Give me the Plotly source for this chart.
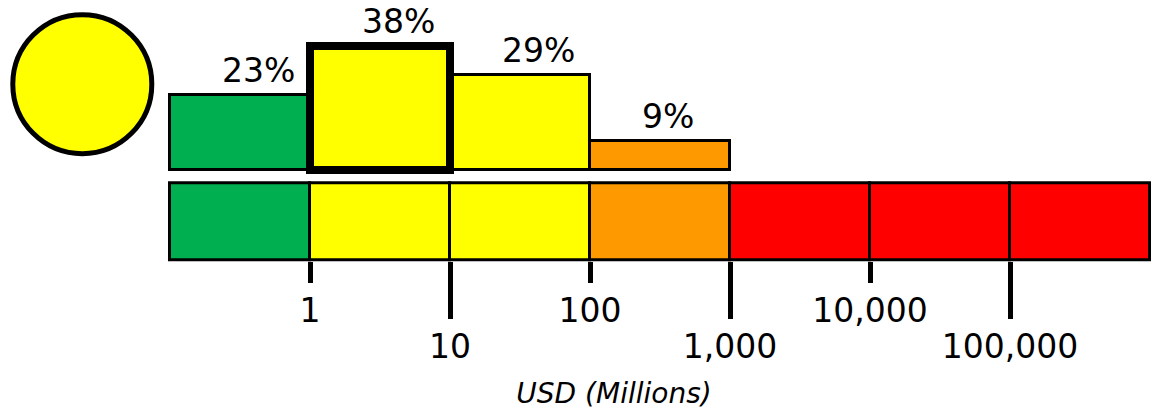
import math
import plotly.graph_objects as go

# ---- data ----
edges_usd_m = [0.1, 1, 10, 100, 1000, 10000, 100000, 1000000]
band_colors = ["#00B050", "#FFFF00", "#FFFF00", "#FF9900", "#FF0000", "#FF0000", "#FF0000"]
hist_pct = [23, 38, 29, 9]
hist_labels = ["23%", "38%", "29%", "9%"]
highlight_index = 1
short_tick_vals = [1, 100, 10000]
short_tick_text = ["1", "100", "10,000"]
long_tick_vals = [10, 1000, 100000]
long_tick_text = ["10", "1,000", "100,000"]
axis_title = "USD (Millions)"

W, H = 1156, 412
FONT = "DejaVu Sans"

def py(p):  # pixel y -> paper fraction
    return (H - p) / H

def px(p):  # pixel x -> paper fraction
    return p / W

log_edges = [math.log10(e) for e in edges_usd_m]
centers = [(a + b) / 2 for a, b in zip(log_edges[:-1], log_edges[1:])]
widths = [b - a for a, b in zip(log_edges[:-1], log_edges[1:])]

fig = go.Figure()

# colour band
fig.add_trace(go.Bar(
    x=centers, y=[1] * len(centers), base=[0] * len(centers), width=widths,
    marker=dict(color=band_colors, line=dict(color="black", width=3)),
    xaxis="x", yaxis="y2", hoverinfo="skip", showlegend=False,
))

# histogram (normal bars)
n = len(hist_pct)
norm_idx = [i for i in range(n) if i != highlight_index]
fig.add_trace(go.Bar(
    x=[centers[i] for i in norm_idx], y=[hist_pct[i] for i in norm_idx],
    width=[widths[i] for i in norm_idx],
    marker=dict(color=[band_colors[i] for i in norm_idx], line=dict(color="black", width=3)),
    xaxis="x", yaxis="y", hoverinfo="skip", showlegend=False,
))
# highlighted bar
fig.add_trace(go.Bar(
    x=[centers[highlight_index]], y=[hist_pct[highlight_index]],
    width=[widths[highlight_index]],
    marker=dict(color=band_colors[highlight_index], line=dict(color="black", width=8)),
    xaxis="x", yaxis="y", hoverinfo="skip", showlegend=False,
))

# percentage labels
for i in range(n):
    fig.add_annotation(
        x=log_edges[i] + 0.357, y=hist_pct[i], xref="x", yref="y",
        text=hist_labels[i], showarrow=False, xanchor="left", yanchor="bottom",
        yshift=3, font=dict(family=FONT, size=33, color="black"),
    )

# highlight circle
fig.add_shape(
    type="circle", xref="paper", yref="paper",
    xsizemode="pixel", ysizemode="pixel",
    xanchor=px(82.3), yanchor=py(84.2),
    x0=-69.5, x1=69.5, y0=-69.5, y1=69.5,
    fillcolor=band_colors[highlight_index], line=dict(color="black", width=5),
)

px_per_dec = 140.0
x_left_px = 72.0
xdom = [px(x_left_px), 1.0]
xr = [-1 - (170 - x_left_px) / px_per_dec, -1 + (W - 170) / px_per_dec]
axis_pos = py(260.5)

common_x = dict(range=xr, domain=xdom, anchor="free", position=axis_pos,
                showgrid=False, zeroline=False, showline=False, ticks="outside",
                tickwidth=5, tickcolor="black",
                tickfont=dict(family=FONT, size=33, color="black"), fixedrange=True)

hist_scale = 3.27
hist_range = [-1.5, 170 / hist_scale]
hist_dom = [py(170 + 1.5 * hist_scale), 1.0]

band_scale = 77.5
band_range = [-0.1, 1.1]
band_dom = [py(260.5 + 0.1 * band_scale), py(183 - 0.1 * band_scale)]

fig.update_layout(
    width=W, height=H, margin=dict(l=0, r=0, t=0, b=0),
    paper_bgcolor="white", plot_bgcolor="rgba(0,0,0,0)",
    barmode="overlay", bargap=0, showlegend=False,
    font=dict(family=FONT, color="black"),
    xaxis=dict(**common_x, tickvals=[math.log10(v) for v in short_tick_vals],
               ticktext=short_tick_text, ticklen=21),
    xaxis2=dict(**common_x, overlaying="x", tickvals=[math.log10(v) for v in long_tick_vals],
                ticktext=long_tick_text, ticklen=57,
                title=dict(text=axis_title, standoff=18,
                           font=dict(family=FONT, size=28, color="black", style="italic"))),
    yaxis=dict(range=hist_range, domain=hist_dom, visible=False, fixedrange=True),
    yaxis2=dict(range=band_range, domain=band_dom, visible=False, fixedrange=True),
)

# invisible helper trace to activate xaxis2
fig.add_trace(go.Scatter(x=[centers[0]], y=[0], xaxis="x2", yaxis="y2", mode="markers",
                         marker=dict(opacity=0), hoverinfo="skip", showlegend=False))

fig.write_html(
    "out.html",
    config={"displayModeBar": False},
    post_script="document.body.style.margin='0px';document.body.style.overflow='hidden';",
)
